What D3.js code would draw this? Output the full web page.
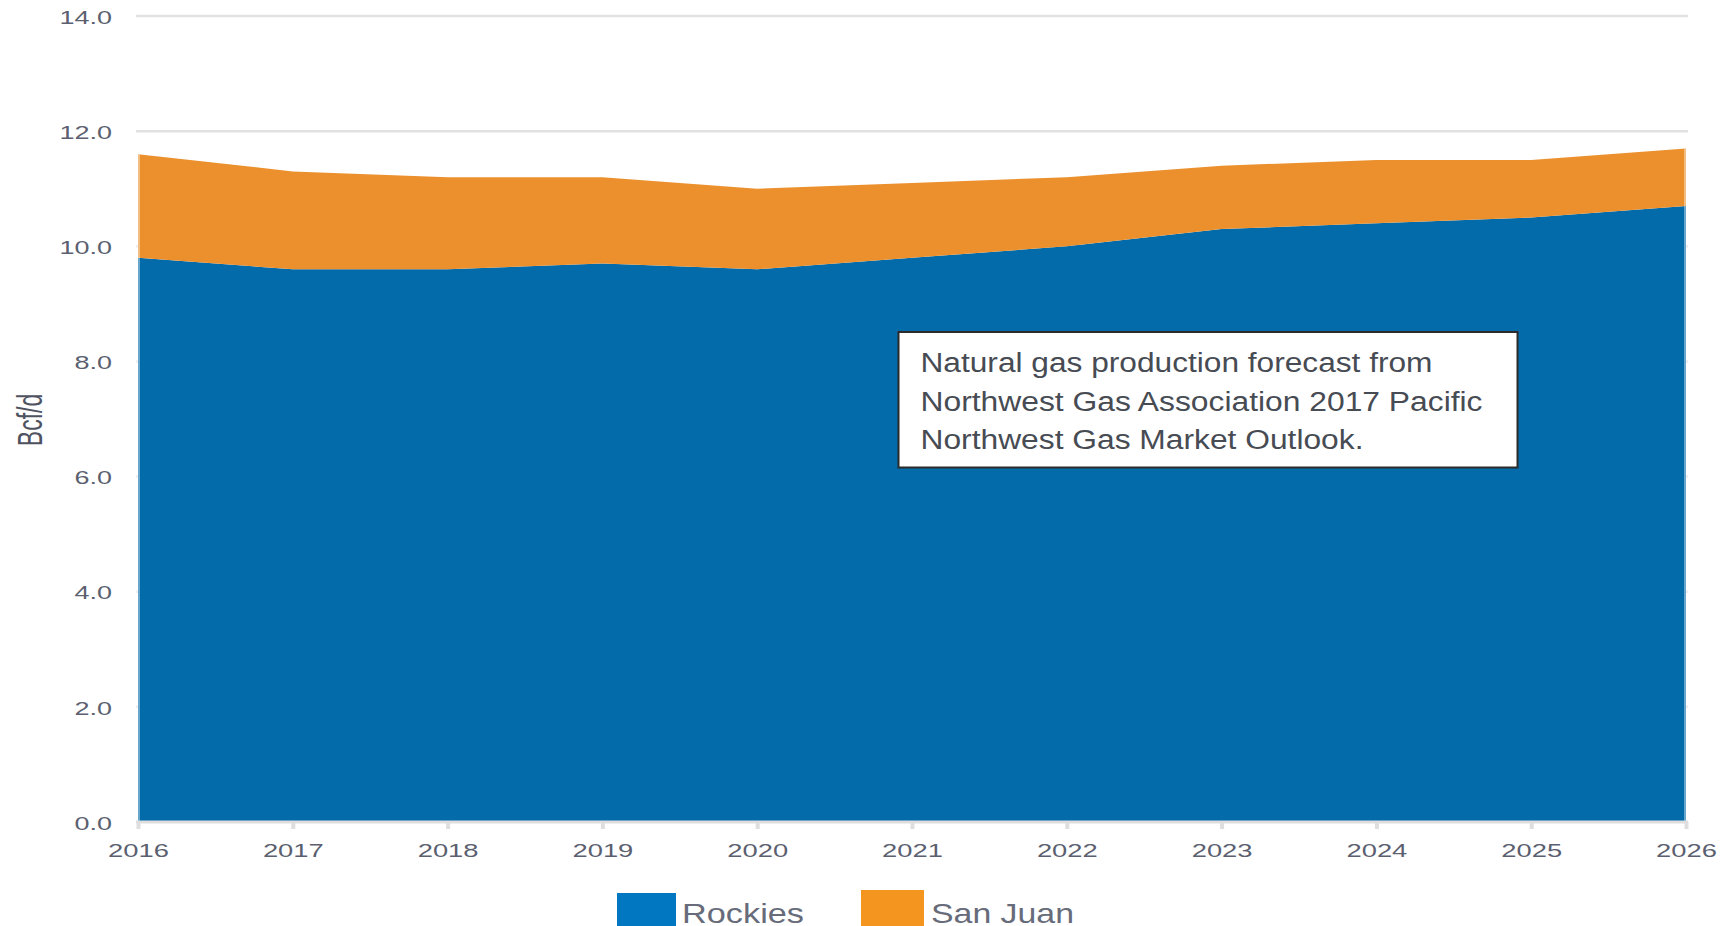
<!DOCTYPE html>
<html>
<head>
    <title>Natural gas production forecast</title>
    <meta charset="utf-8">
</head>
<style>
    body { margin: 0; background: #fff; }
    text { font-family: "Liberation Sans", Arial, sans-serif; }
</style>
<body>
<svg width="1729" height="926"></svg>
<script src="https://d3js.org/d3.v7.min.js"></script>
<script>
var years = [2016, 2017, 2018, 2019, 2020, 2021, 2022, 2023, 2024, 2025, 2026];
var rockies = [9.8, 9.6, 9.6, 9.7, 9.6, 9.8, 10.0, 10.3, 10.4, 10.5, 10.7];
var sanJuan = [1.8, 1.7, 1.6, 1.5, 1.4, 1.3, 1.2, 1.1, 1.1, 1.0, 1.0];
var yTicks = [0, 2, 4, 6, 8, 10, 12, 14];
var seriesNames = ["Rockies", "San Juan"];
var noteLines = [
    "Natural gas production forecast from",
    "Northwest Gas Association 2017 Pacific",
    "Northwest Gas Market Outlook."
];

var svg = d3.select("svg");

var areaColors = { "Rockies": "#036baa", "San Juan": "#eb902d" };
var legendColors = { "Rockies": "#0077c0", "San Juan": "#f3951f" };

var x = d3.scaleLinear()
    .domain([2016, 2026])
    .range([138, 1686]);

var y = d3.scaleLinear()
    .domain([0, 14])
    .range([822, 16]);

// table for the stack
var table = years.map((yr, i) => ({ year: yr, "Rockies": rockies[i], "San Juan": sanJuan[i] }));
var stacked = d3.stack().keys(seriesNames)(table);

// gridlines
svg.append("g")
  .selectAll("line")
  .data(yTicks.filter(d => d > 0))
  .enter().append("line")
    .attr("x1", 136)
    .attr("x2", 1688)
    .attr("y1", d => y(d))
    .attr("y2", d => y(d))
    .attr("stroke", "#e1e1e1")
    .attr("stroke-width", 2.5);

var area = d3.area()
    .x(d => x(d.data.year))
    .y0(d => y(d[0]))
    .y1(d => y(d[1]));

svg.append("g")
  .selectAll("path")
  .data(stacked)
  .enter().append("path")
    .attr("fill", d => areaColors[d.key])
    .attr("d", area);

// soft edges at both ends of the area
svg.append("g")
  .selectAll("line")
  .data([2016, 2026])
  .enter().append("line")
    .attr("x1", d => x(d))
    .attr("x2", d => x(d))
    .attr("y1", (d, i) => y(rockies[years.indexOf(d)] + sanJuan[years.indexOf(d)]))
    .attr("y2", y(0))
    .attr("stroke", "#fff")
    .attr("stroke-opacity", 0.4)
    .attr("stroke-width", 4);

// x axis
var xAxis = d3.axisBottom(x)
    .tickValues(years)
    .tickFormat(d3.format("d"))
    .tickSize(7)
    .tickSizeOuter(0);

var gX = svg.append("g")
    .attr("transform", "translate(0," + y(0) + ")")
    .call(xAxis);

gX.select(".domain").remove();
gX.append("line")
    .attr("x1", 136).attr("x2", 1688)
    .attr("y1", 0).attr("y2", 0)
    .attr("stroke", "#dedede")
    .attr("stroke-width", 3);
gX.selectAll(".tick line")
    .attr("stroke", "#dedede")
    .attr("stroke-width", 4);
gX.selectAll(".tick text")
    .attr("y", 35)
    .attr("dy", 0)
    .attr("transform", "scale(1.52,1)")
    .attr("fill", "#5b5f70")
    .style("font-size", "18px");

// y axis labels
var yAxis = d3.axisLeft(y)
    .tickValues(yTicks)
    .tickFormat(d3.format(".1f"))
    .tickSize(0)
    .tickPadding(16);

var gY = svg.append("g")
    .attr("transform", "translate(136,0)")
    .call(yAxis);

gY.select(".domain").remove();
gY.selectAll(".tick text")
    .attr("transform", "scale(1.5,1)")
    .attr("dy", "0.4em")
    .attr("fill", "#5b5f70")
    .style("font-size", "18px");

svg.append("text")
    .attr("transform", "translate(42,420) scale(1.5,1) rotate(-90)")
    .attr("text-anchor", "middle")
    .attr("fill", "#4f5260")
    .style("font-size", "23px")
    .text("Bcf/d");

// note box
var note = svg.append("g");
note.append("rect")
    .attr("x", 898.5)
    .attr("y", 332)
    .attr("width", 619)
    .attr("height", 135.5)
    .attr("fill", "#fff")
    .attr("stroke", "#2b2b2b")
    .attr("stroke-width", 2);

var noteWidths = [512, 562, 443];
var noteBase = [371.7, 411, 449];
note.selectAll("text")
  .data(noteLines)
  .enter().append("text")
    .attr("x", 920.5)
    .attr("y", (d, i) => noteBase[i])
    .attr("textLength", (d, i) => noteWidths[i])
    .attr("lengthAdjust", "spacingAndGlyphs")
    .attr("fill", "#474b53")
    .style("font-size", "27px")
    .text(d => d);

// legend
var legendX = [617, 861];
var legendTop = [893, 890];
var legendW = [59, 63];
var legendTextX = [682, 931];
var legendTextW = [122, 143];

var legend = svg.append("g")
  .selectAll("g")
  .data(seriesNames)
  .enter().append("g");

legend.append("rect")
    .attr("x", (d, i) => legendX[i])
    .attr("y", (d, i) => legendTop[i])
    .attr("width", (d, i) => legendW[i])
    .attr("height", 40)
    .attr("fill", d => legendColors[d]);

legend.append("text")
    .attr("x", (d, i) => legendTextX[i])
    .attr("y", 922.5)
    .attr("textLength", (d, i) => legendTextW[i])
    .attr("lengthAdjust", "spacingAndGlyphs")
    .attr("fill", "#676b7a")
    .style("font-size", "28px")
    .text(d => d);
</script>
</body>
</html>
